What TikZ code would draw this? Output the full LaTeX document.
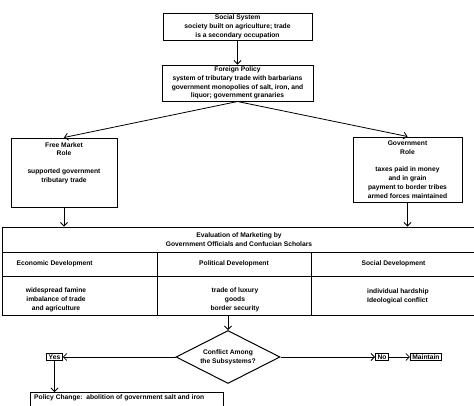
\documentclass[tikz,border=0pt]{standalone}
\usepackage{fontspec}
\setmainfont{Liberation Sans}
\usepackage{tikz}
\usetikzlibrary{arrows.meta,positioning,shapes.geometric,calc}
\newcommand{\flowfont}{\fontsize{6.7}{8.8}\selectfont\bfseries}
\tikzset{
  % connector with open barb head
  flow/.style={-{Straight Barb[length=3.5pt,width=7pt]}, line width=0.8pt},
  % outlined box, size given from outside
  fbox/.style={rectangle, draw, line width=1pt, inner sep=1pt, align=center, font=\flowfont},
  % table cell
  cell/.style={rectangle, draw, line width=1pt, inner sep=0pt, align=center, font=\flowfont},
  % plain text
  txt/.style={inner sep=1pt, align=#1, font=\flowfont},
  txt/.default={center},
  % small answer box
  answer/.style={rectangle, draw, line width=1pt, inner xsep=2pt, inner ysep=1.2pt, font=\flowfont},
  % decision diamond
  decision/.style={diamond, draw, line width=1pt, inner sep=0pt, aspect=2, align=center, font=\flowfont},
}
\begin{document}
\begin{tikzpicture}[x=1pt, y=-1pt]
  \useasboundingbox (0,0) rectangle (474,405);
  % policy boxes
  \node[fbox, minimum width=149, minimum height=27] (social) at (237.5,26.5)
    {Social System\\society built on agriculture; trade\\is a secondary occupation};
  \node[fbox, minimum width=151, minimum height=36] (foreign) at (237.5,83)
    {Foreign Policy\\system of tributary trade with barbarians\\government monopolies of salt, iron, and\\liquor; government granaries};
  \node[fbox, minimum width=106, minimum height=69] (free) at (64,172.5) {};
  \node[txt, below=3.5pt of free.north] (freetxt)
    {Free Market\\Role\\[8.8pt]supported government\\tributary trade};
  \node[fbox, minimum width=109, minimum height=65] (gov) at (407.5,169.5)
    {Government\\Role\\[8.8pt]taxes paid in money\\and in grain\\payment to border tribes\\armed forces maintained};
  % evaluation table
  \node[cell, minimum width=474, minimum height=25] (evalhead) at (239,239.5)
    {Evaluation of Marketing by\\Government Officials and Confucian Scholars};
  \node[cell, minimum width=155, minimum height=24] (econhead) at (79.5,264) {};
  \node[cell, minimum width=154, minimum height=24] (polhead) at (234,264) {Political Development};
  \node[cell, minimum width=165, minimum height=24] (sochead) at (393.5,264) {Social Development};
  \node[cell, minimum width=155, minimum height=39] (econcell) at (79.5,295.5) {};
  \node[cell, minimum width=154, minimum height=39] (polcell) at (234,295.5) {};
  \node[cell, minimum width=165, minimum height=39] (soccell) at (393.5,295.5) {};
  \node[txt, right=14pt of econhead.west] (econtxt) {Economic Development};
  \node[txt] (econlist) at (56,300) {widespread famine\\imbalance of trade\\and agriculture};
  \node[txt] (pollist) at (235,300) {trade of luxury\\goods\\border security};
  \node[txt=left, anchor=west] (soclist) at (366,296) {individual hardship\\Ideological conflict};
  % decision
  \node[decision, minimum width=104, minimum height=53] (conflict) at (228,357)
    {Conflict Among\\the Subsystems?};
  \node[answer] (yes) at (54.5,357) {Yes};
  \node[answer] (no) at (382,357) {No};
  \node[answer] (maint) at (426,357) {Maintain};
  \node[fbox, anchor=north west, minimum width=193, minimum height=30] (policy) at (30,392) {};
  \node[txt, anchor=north west, below right=1.5pt and 3pt of policy.north west] (policytxt)
    {Policy Change:\ \ abolition of government salt and iron};
  % connectors
  \draw[flow] (social) -- (foreign);
  \draw[flow] (foreign.south) -- (free.north);
  \draw[flow] (foreign.south) -- (gov.north);
  \draw[flow] (free.south) -- (free.south |- evalhead.north);
  \draw[flow] (gov.south) -- (gov.south |- evalhead.north);
  \draw[flow] (conflict.north |- polcell.south) -- (conflict.north);
  \draw[flow] (conflict.west) -- (yes.east);
  \draw[flow] (yes.south) -- (yes.south |- policy.north);
  \draw[flow] (conflict.east) -- (no.west);
  \draw[flow] (no) -- (maint);
\end{tikzpicture}
\end{document}
